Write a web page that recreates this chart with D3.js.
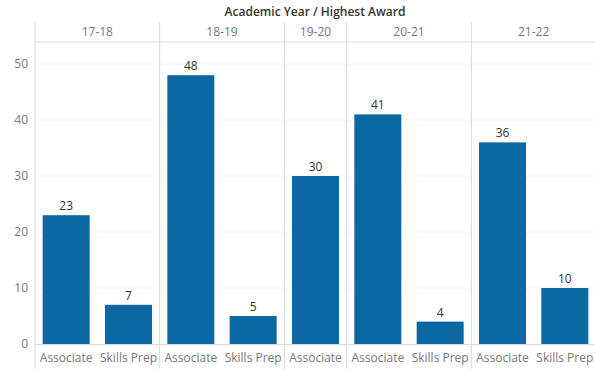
<!DOCTYPE html>
<html><head><meta charset="utf-8">
<script src="https://cdn.jsdelivr.net/npm/d3@7"></script>
<style>body{margin:0;background:#fff}svg{display:block;font-family:"Open Sans",sans-serif}</style>
</head><body><svg id="c" width="595" height="369"></svg>
<script>
const years = ["17-18","18-19","19-20","20-21","21-22"];
const awardsByYear = [["Associate","Skills Prep"],["Associate","Skills Prep"],["Associate"],["Associate","Skills Prep"],["Associate","Skills Prep"]];
const values = [[23,7],[48,5],[30],[41,4],[36,10]];
const yTicks = [0,10,20,30,40,50];

const svg = d3.select("#c");
const plotLeft = 35, plotRight = 596, plotTop = 22, headerBottom = 42, zeroY = 344, plotBottom = 369;
const color = "#0b68a3", grid = "#d9d9d9";

const counts = awardsByYear.map(a => a.length);
const total = d3.sum(counts);
const xk = d3.scaleLinear().domain([0, total]).range([plotLeft, plotRight]);
const y = d3.scaleLinear().domain([0,50]).range([zeroY, 64]);

svg.append("g").selectAll("line").data(yTicks.filter(d=>d>0)).join("line")
  .attr("x1", plotLeft).attr("x2", plotRight).attr("y1", d=>y(d)).attr("y2", d=>y(d))
  .attr("stroke", "#f2f2f2").attr("stroke-width", 1);

svg.append("text").attr("x", 315).attr("y", 16).attr("text-anchor","middle")
  .attr("font-size", 12).attr("font-weight", 600).attr("fill", "#333")
  .text("Academic Year / Highest Award");

svg.append("g").selectAll("text").data(yTicks).join("text")
  .attr("x", 28).attr("y", d=>y(d)).attr("dy","0.35em").attr("text-anchor","end")
  .attr("font-size", 12).attr("fill", "#777").text(d=>d);

let idx = 0;
const flat = [];
years.forEach((yr, i) => {
  const start = idx;
  awardsByYear[i].forEach((aw, j) => { flat.push({yr, aw, v: values[i][j], k: idx}); idx++; });
  const x0 = xk(start), x1 = xk(idx);
  svg.append("text").attr("x", (x0+x1)/2).attr("y", 36).attr("text-anchor","middle")
    .attr("font-size", 12).attr("fill", "#777").text(yr);
  if (i > 0) svg.append("line").attr("x1", x0).attr("x2", x0).attr("y1", plotTop).attr("y2", plotBottom)
    .attr("stroke", grid).attr("stroke-width", 1);
});

svg.append("line").attr("x1", plotLeft).attr("x2", plotLeft).attr("y1", plotTop).attr("y2", plotBottom).attr("stroke", grid);
svg.append("line").attr("x1", plotLeft).attr("x2", plotRight).attr("y1", headerBottom).attr("y2", headerBottom).attr("stroke", grid);
svg.append("line").attr("x1", plotLeft).attr("x2", plotRight).attr("y1", zeroY+0.5).attr("y2", zeroY+0.5).attr("stroke", grid);

const bw = 47;
const cx = k => xk(k + 0.5);
svg.append("g").selectAll("rect").data(flat).join("rect")
  .attr("x", d=>cx(d.k) - bw/2).attr("width", bw)
  .attr("y", d=>y(d.v)).attr("height", d=>zeroY - y(d.v)).attr("fill", color);

svg.append("g").selectAll("text").data(flat).join("text")
  .attr("x", d=>cx(d.k)).attr("y", d=>y(d.v) - 5).attr("text-anchor","middle")
  .attr("font-size", 12).attr("fill", "#333").text(d=>d.v);

svg.append("g").selectAll("text").data(flat).join("text")
  .attr("x", d=>cx(d.k)).attr("y", 362).attr("text-anchor","middle")
  .attr("font-size", 12).attr("fill", "#777").text(d=>d.aw);
</script></body></html>
